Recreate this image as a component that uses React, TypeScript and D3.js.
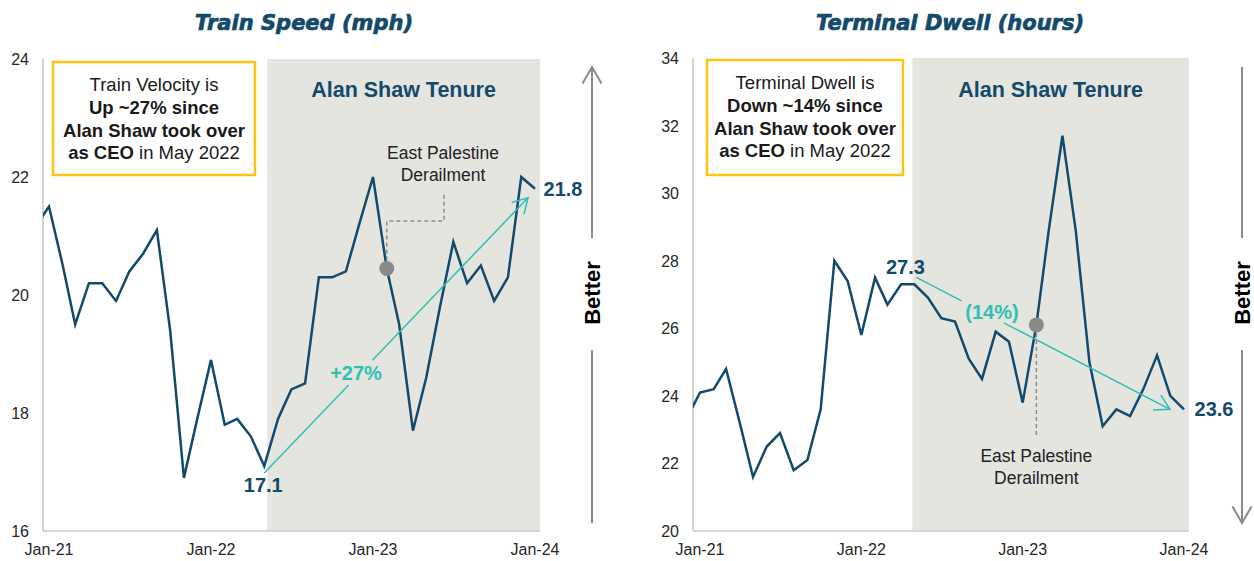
import React from 'react';
import * as d3 from 'd3';

// monthly points, Dec-20 .. Jan-24
const months = d3.timeMonth.range(new Date(2020, 11, 1), new Date(2024, 1, 1));

const speedValues = [
  21.15,
  21.5, 20.5, 19.5, 20.2, 20.2, 19.9, 20.4, 20.7, 21.1, 19.4, 16.9, 17.9,
  18.9, 17.8, 17.9, 17.6, 17.1, 17.9, 18.4, 18.5, 20.3, 20.3, 20.4, 21.2,
  22.0, 20.45, 19.5, 17.7, 18.6, 19.8, 20.9, 20.2, 20.5, 19.9, 20.3, 22.0,
  21.8,
];

const dwellValues = [
  23.3,
  24.1, 24.2, 24.8, 23.2, 21.6, 22.5, 22.9, 21.8, 22.1, 23.6, 28.0, 27.4,
  25.8, 27.5, 26.7, 27.3, 27.3, 26.9, 26.3, 26.2, 25.1, 24.5, 25.9, 25.6,
  23.8, 26.1, 28.9, 31.7, 28.9, 25.0, 23.1, 23.6, 23.4, 24.2, 25.2, 24.0,
  23.6,
];

const xTickDates = [new Date(2021, 0, 1), new Date(2022, 0, 1), new Date(2023, 0, 1), new Date(2024, 0, 1)];
const speedTicks = [16, 18, 20, 22, 24];
const dwellTicks = [20, 22, 24, 26, 28, 30, 32, 34];

const tenureStart = new Date(2022, 4, 1);
const tenureEnd = new Date(2024, 0, 12);
const derailDate = new Date(2023, 1, 1);

const NAVY = '#134a6b';
const TEAL = '#2fbfb0';
const GREY = '#8a8a8a';
const SHADE = '#e5e5e0';
const YELLOW = '#ffc20e';

const chevron = (x: number, y: number, angle: number, len = 17) => {
  const a1 = angle + Math.PI - Math.PI / 6;
  const a2 = angle + Math.PI + Math.PI / 6;
  return `M${x + len * Math.cos(a1)},${y + len * Math.sin(a1)}L${x},${y}L${x + len * Math.cos(a2)},${y + len * Math.sin(a2)}`;
};

const Panel = ({ p }: any) => {
  const x = d3.scaleTime().domain([xTickDates[0], xTickDates[3]]).range([p.x0, p.x1]);
  const y = d3.scaleLinear().domain(p.yDomain).range([p.bottom, p.top]);
  const line = d3.line<number>().x((d, i) => x(months[i])).y(d => y(d));
  const sx0 = x(tenureStart) + p.shadeShift;
  const sx1 = x(tenureEnd);
  const clipId = 'clip-' + p.id;

  const dotX = x(derailDate);
  const dotY = y(p.values[months.findIndex(m => +m === +derailDate)]);

  const a = p.arrow(x, y);
  const ang = Math.atan2(a.y2 - a.y1, a.x2 - a.x1);
  const lerp = (t: number) => [a.x1 + (a.x2 - a.x1) * t, a.y1 + (a.y2 - a.y1) * t];
  const g0 = lerp(p.gap[0]);
  const g1 = lerp(p.gap[1]);

  const fnt = 'Liberation Sans, Arial, sans-serif';
  const bx = p.betterX;
  const bcx = (p.box[0] + p.box[2]) / 2;

  return (
    <g>
      <text x={p.titleX} y={30} textAnchor="middle" fontFamily="DejaVu Sans, sans-serif" fontWeight="bold"
        fontStyle="italic" fontSize={21} fill={NAVY} stroke={NAVY} strokeWidth={0.7}>{p.title}</text>

      <rect x={sx0} y={p.top} width={sx1 - sx0} height={p.bottom - p.top} fill={SHADE} />
      <text x={(sx0 + sx1) / 2} y={97} textAnchor="middle" fontFamily={fnt} fontWeight="bold" fontSize={21.5}
        fill={NAVY}>Alan Shaw Tenure</text>

      {/* axes */}
      <line x1={p.axisX} x2={p.axisX} y1={p.top} y2={p.bottom} stroke="#c8c8c8" strokeWidth={1.6} />
      <line x1={p.axisX} x2={sx1} y1={p.bottom} y2={p.bottom} stroke="#c8c8c8" strokeWidth={1.6} />
      {p.ticks.map((t: number) => (
        <text key={t} x={p.axisX - 14} y={y(t) + 6} textAnchor="end" fontFamily={fnt} fontSize={16} fill="#262626">{t}</text>
      ))}
      {xTickDates.map(d => (
        <text key={+d} x={x(d)} y={555} textAnchor="middle" fontFamily={fnt} fontSize={16} fill="#262626">
          {d3.timeFormat('%b-%y')(d)}
        </text>
      ))}

      {/* yellow call-out */}
      <rect x={p.box[0]} y={p.box[1]} width={p.box[2] - p.box[0]} height={p.box[3] - p.box[1]} fill="white"
        stroke={YELLOW} strokeWidth={2.5} />
      <g fontFamily={fnt} fontSize={18.5} fill="#1a1a1a" textAnchor="middle">
        <text x={bcx} y={p.box[1] + 29}>{p.boxLines[0]}</text>
        <text x={bcx} y={p.box[1] + 52} fontWeight="bold">{p.boxLines[1]}</text>
        <text x={bcx} y={p.box[1] + 75} fontWeight="bold">Alan Shaw took over</text>
        <text x={bcx} y={p.box[1] + 97}>
          <tspan fontWeight="bold">as CEO</tspan> in May 2022
        </text>
      </g>

      <clipPath id={clipId}>
        <rect x={p.axisX} y={0} width={sx1 - p.axisX} height={p.bottom} />
      </clipPath>
      <path d={line(p.values) || ''} fill="none" stroke={NAVY} strokeWidth={2.5} strokeLinejoin="miter"
        clipPath={`url(#${clipId})`} />

      {/* derailment marker */}
      <path d={p.derailPath(dotX, dotY)} fill="none" stroke={GREY} strokeWidth={1.5} strokeDasharray="4,3" />
      <circle cx={dotX} cy={dotY} r={7.5} fill={GREY} />
      <g fontFamily={fnt} fontSize={17.5} fill="#222" textAnchor="middle">
        <text x={p.derailText(dotX)[0]} y={p.derailText(dotX)[1]}>East Palestine</text>
        <text x={p.derailText(dotX)[0]} y={p.derailText(dotX)[1] + 22}>Derailment</text>
      </g>

      {/* change arrow */}
      <line x1={a.x1} y1={a.y1} x2={g0[0]} y2={g0[1]} stroke={TEAL} strokeWidth={1.5} />
      <line x1={g1[0]} y1={g1[1]} x2={a.x2} y2={a.y2} stroke={TEAL} strokeWidth={1.5} />
      <path d={chevron(a.x2, a.y2, ang)} fill="none" stroke={TEAL} strokeWidth={1.5} />
      <text x={p.pct[1]} y={p.pct[2]} textAnchor="middle" fontFamily={fnt} fontWeight="bold" fontSize={20}
        fill={TEAL}>{p.pct[0]}</text>

      {p.labels(x, y).map((l: any) => (
        <text key={l.t} x={l.x} y={l.y} textAnchor="middle" fontFamily={fnt} fontWeight="bold" fontSize={20}
          fill={NAVY}>{l.t}</text>
      ))}

      {/* better arrow */}
      <line x1={bx} x2={bx} y1={67} y2={238} stroke={GREY} strokeWidth={2} />
      <line x1={bx} x2={bx} y1={350} y2={523} stroke={GREY} strokeWidth={2} />
      <path d={p.betterUp ? chevron(bx, 67, -Math.PI / 2, 19) : chevron(bx, 523, Math.PI / 2, 19)} fill="none"
        stroke={GREY} strokeWidth={2} />
      <text transform={`translate(${bx + 8},293) rotate(-90)`} textAnchor="middle" fontFamily={fnt}
        fontWeight="bold" fontSize={22} fill="#000">Better</text>
    </g>
  );
};

const panels = [
  {
    id: 'speed',
    title: 'Train Speed (mph)',
    titleX: 304,
    values: speedValues,
    ticks: speedTicks,
    yDomain: [16, 24],
    axisX: 43, x0: 49, x1: 535, top: 59, bottom: 531,
    shadeShift: 3,
    box: [53, 62, 255, 175],
    boxLines: ['Train Velocity is', 'Up ~27% since'],
    arrow: (x: any, y: any) => ({ x1: x(tenureStart), y1: y(17.1) + 7, x2: x(xTickDates[3]) - 7, y2: y(21.8) + 9 }),
    gap: [0.32, 0.41],
    pct: ['+27%', 356, 380],
    labels: (x: any, y: any) => [
      { t: '17.1', x: x(tenureStart) - 1, y: y(17.1) + 26 },
      { t: '21.8', x: x(xTickDates[3]) + 28, y: y(21.8) + 7 },
    ],
    derailPath: (dx: number, dy: number) => `M${dx},${dy - 8}V221H444V192`,
    derailText: () => [443, 159],
    betterX: 592,
    betterUp: true,
  },
  {
    id: 'dwell',
    title: 'Terminal Dwell (hours)',
    titleX: 950,
    values: dwellValues,
    ticks: dwellTicks,
    yDomain: [20, 34],
    axisX: 693, x0: 700, x1: 1184, top: 58, bottom: 531,
    shadeShift: -2,
    box: [707, 60, 903, 175],
    boxLines: ['Terminal Dwell is', 'Down ~14% since'],
    arrow: (x: any, y: any) => ({ x1: x(tenureStart) + 2, y1: y(27.3) - 7, x2: x(xTickDates[3]) - 14, y2: y(23.6) }),
    gap: [0.178, 0.345],
    pct: ['(14%)', 992, 319],
    labels: (x: any, y: any) => [
      { t: '27.3', x: x(tenureStart) - 9, y: y(27.3) - 10 },
      { t: '23.6', x: x(xTickDates[3]) + 30, y: y(23.6) + 7 },
    ],
    derailPath: (dx: number, dy: number) => `M${dx},${dy + 8}V438`,
    derailText: (dx: number) => [dx, 462],
    betterX: 1242,
    betterUp: false,
  },
];

export default function App() {
  return (
    <svg width={1254} height={561} style={{ position: 'absolute', left: 0, top: 0, background: 'white' }}>
      {panels.map(p => <Panel key={p.id} p={p} />)}
    </svg>
  );
}
